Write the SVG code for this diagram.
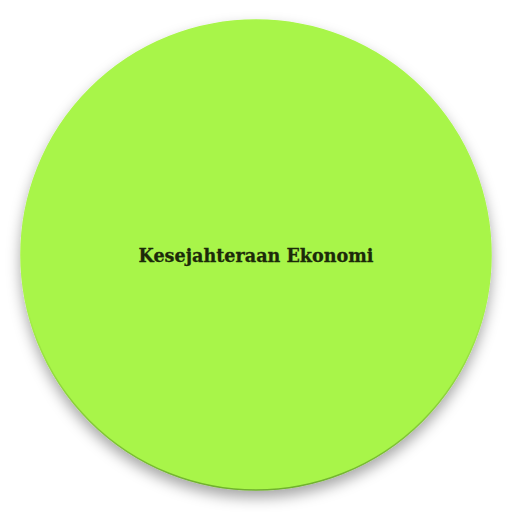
<svg xmlns="http://www.w3.org/2000/svg" width="512" height="512" viewBox="0 0 512 512">
<defs>
<filter id="sh" x="-20%" y="-20%" width="140%" height="140%">
<feDropShadow dx="0" dy="7" stdDeviation="7" flood-color="#000" flood-opacity="0.35"/>
</filter>
<linearGradient id="edge" x1="0" y1="0" x2="0" y2="1">
<stop offset="0.6" stop-color="#a8f548"/>
<stop offset="1" stop-color="#6fb02e"/>
</linearGradient>
<style>
.lbl{font-family:"DejaVu Serif","Liberation Serif",serif;font-weight:bold;font-size:18px;fill:#1c2a0a;stroke:#1c2a0a;stroke-width:0.3}
</style>
</defs>
<rect width="512" height="512" fill="#fff"/>
<g id="node-main">
<circle cx="256" cy="255" r="235" fill="#a8f548" stroke="url(#edge)" stroke-width="1.5" filter="url(#sh)"/>
<text class="lbl" x="256" y="262" text-anchor="middle" textLength="235" lengthAdjust="spacingAndGlyphs">Kesejahteraan Ekonomi</text>
</g>
<g id="connectors"/>
</svg>
